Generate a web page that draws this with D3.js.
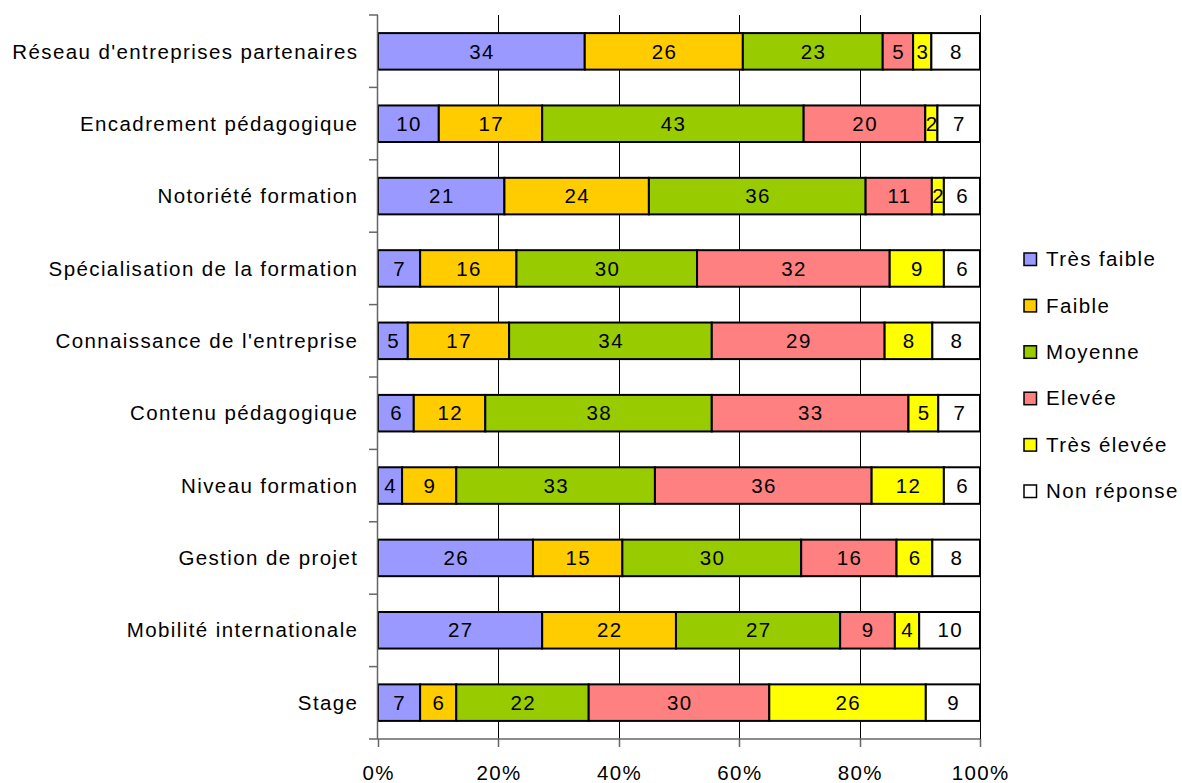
<!DOCTYPE html>
<html><head><meta charset="utf-8">
<script src="https://cdn.jsdelivr.net/npm/d3@7"></script>
<style>body{margin:0;background:#fff;}svg{display:block;font-family:"Liberation Sans",Arial,sans-serif;}text{letter-spacing:1.4px;}</style>
</head><body>
<svg id="c" width="1182" height="783"></svg>
<script>
const categories = ["Réseau d'entreprises partenaires","Encadrement pédagogique","Notoriété formation","Spécialisation de la formation","Connaissance de l'entreprise","Contenu pédagogique","Niveau formation","Gestion de projet","Mobilité internationale","Stage"];
const series = ["Très faible","Faible","Moyenne","Elevée","Très élevée","Non réponse"];
const tresFaible = [34,10,21,7,5,6,4,26,27,7];
const faible     = [26,17,24,16,17,12,9,15,22,6];
const moyenne    = [23,43,36,30,34,38,33,30,27,22];
const elevee     = [5,20,11,32,29,33,36,16,9,30];
const tresElevee = [3,2,2,9,8,5,12,6,4,26];
const nonReponse = [8,7,6,6,8,7,6,8,10,9];
const xTicks = [0,0.2,0.4,0.6,0.8,1];
const colors = ["#9999FF","#FFCC00","#99CC00","#FF8080","#FFFF00","#FFFFFF"];

const seriesValues = [tresFaible,faible,moyenne,elevee,tresElevee,nonReponse];
const rows = categories.map((c,i)=>{const o={cat:c};series.forEach((s,j)=>o[s]=seriesValues[j][i]);return o;});
const stack = d3.stack().keys(series).offset(d3.stackOffsetExpand)(rows);

const FS = 20.5, LS = 1.4;
const svg = d3.select("#c");
const L=378,R=980,T=15,B=739;
const x = d3.scaleLinear().domain([0,1]).range([L,R]);
const y = d3.scaleBand().domain(categories).range([T,B]).paddingInner(0.495).paddingOuter(0.25);

// gridlines
svg.append("g").selectAll("line").data(xTicks.slice(1)).join("line")
  .attr("x1",d=>Math.round(x(d))+0.5).attr("x2",d=>Math.round(x(d))+0.5)
  .attr("y1",T).attr("y2",B).attr("stroke","#000").attr("stroke-width",1);

// bars
const g = svg.append("g");
stack.forEach((s,j)=>{
  g.append("g").selectAll("rect").data(s).join("rect")
    .attr("x",d=>x(d[0])).attr("width",d=>x(d[1])-x(d[0]))
    .attr("y",d=>y(d.data.cat)).attr("height",y.bandwidth())
    .attr("fill",colors[j]).attr("stroke","#000").attr("stroke-width",2);
});
stack.forEach((s,j)=>{
  g.append("g").selectAll("text").data(s).join("text")
    .attr("x",d=>(x(d[0])+x(d[1]))/2 + LS/2).attr("y",d=>y(d.data.cat)+y.bandwidth()/2)
    .attr("dy","0.35em").attr("text-anchor","middle").attr("font-size",FS).attr("fill","#000")
    .text(d=>d.data[series[j]]);
});

// y axis
svg.append("line").attr("x1",L-0.5).attr("x2",L-0.5).attr("y1",T).attr("y2",B).attr("stroke","#666").attr("stroke-width",1.5);
const yEdges = d3.range(categories.length+1).map(i=>T+i*(B-T)/categories.length);
svg.append("g").selectAll("line").data(yEdges).join("line")
  .attr("x1",369).attr("x2",L).attr("y1",d=>d).attr("y2",d=>d).attr("stroke","#666").attr("stroke-width",1.5);
svg.append("g").selectAll("text").data(categories).join("text")
  .attr("x",357+LS).attr("y",d=>y(d)+y.bandwidth()/2).attr("dy","0.35em")
  .attr("text-anchor","end").attr("font-size",FS).attr("fill","#000").text(d=>d);

// x axis
svg.append("line").attr("x1",L).attr("x2",R).attr("y1",B).attr("y2",B).attr("stroke","#666").attr("stroke-width",1.5);
svg.append("g").selectAll("line").data(xTicks).join("line")
  .attr("x1",d=>Math.round(x(d))+0.5).attr("x2",d=>Math.round(x(d))+0.5).attr("y1",B).attr("y2",747)
  .attr("stroke","#666").attr("stroke-width",1.5);
svg.append("g").selectAll("text").data(xTicks).join("text")
  .attr("x",d=>x(d)+LS/2).attr("y",773).attr("dy","0.35em").attr("text-anchor","middle")
  .attr("font-size",FS).attr("fill","#000").text(d=>d3.format(".0%")(d));

// legend
const lg = svg.append("g");
series.forEach((s,j)=>{
  const ly = 259 + j*46.4;
  lg.append("rect").attr("x",1024).attr("y",ly-6).attr("width",12.5).attr("height",12.5)
    .attr("fill",colors[j]).attr("stroke","#000").attr("stroke-width",1.5);
  lg.append("text").attr("x",1046).attr("y",ly).attr("dy","0.35em").attr("font-size",FS).attr("fill","#000").text(s);
});
</script>
</body></html>
